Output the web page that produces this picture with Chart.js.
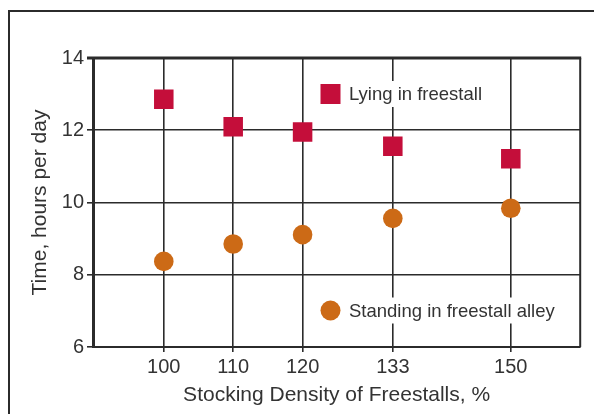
<!DOCTYPE html>
<html><head><meta charset="utf-8">
<script src="https://cdn.jsdelivr.net/npm/chart.js@4/dist/chart.umd.min.js"></script>
<style>html,body{margin:0;padding:0;background:#fff}#wrap{width:594px;height:414px;position:relative}</style>
</head><body><div id="wrap"><canvas id="c" width="594" height="414"></canvas></div>
<script>
const stockingDensity = [100, 110, 120, 133, 150];
const lyingInFreestall = [12.86, 12.1, 11.95, 11.56, 11.21];
const standingInAlley = [8.37, 8.85, 9.11, 9.56, 9.84];
const yTicks = [6, 8, 10, 12, 14];
const seriesLabels = ['Lying in freestall', 'Standing in freestall alley'];
const xTitle = 'Stocking Density of Freestalls, %';
const yTitle = 'Time, hours per day';

const FAMILY = '"Liberation Sans", Arial, Helvetica, sans-serif';
const INK = '#2b2b2b';
const TXT = '#333333';
const RED = '#C40E3A';
const ORANGE = '#CC6A16';
Chart.defaults.font.family = FAMILY;

const framePlugin = {
  id: 'frame',
  beforeDraw(chart) {
    const ctx = chart.ctx;
    ctx.save();
    ctx.strokeStyle = INK;
    ctx.lineWidth = 2;
    ctx.strokeRect(9, 11, 800, 800);
    ctx.restore();
  },
  afterDraw(chart) {
    const ctx = chart.ctx;
    const a = chart.chartArea;
    ctx.save();
    ctx.strokeStyle = INK;
    ctx.lineWidth = 2;
    ctx.beginPath();
    ctx.moveTo(a.right, a.top);
    ctx.lineTo(a.right, a.bottom);
    ctx.stroke();
    ctx.lineWidth = 3;
    ctx.beginPath();
    ctx.moveTo(a.left - 6, a.top);
    ctx.lineTo(a.right + 1, a.top);
    ctx.stroke();
    // in-plot legend
    const items = chart.options.plugins.inlineLegend.items;
    chart.data.datasets.forEach((ds, i) => {
      const it = items[i];
      ctx.font = '18.5px ' + FAMILY;
      const w = ctx.measureText(ds.label).width;
      ctx.fillStyle = '#ffffff';
      ctx.fillRect(it.x - 18, it.y - 13, w + 46, 26);
      ctx.fillStyle = ds.backgroundColor;
      if (ds.pointStyle === 'rect') {
        ctx.fillRect(it.x - 10, it.y - 10, 20, 20);
      } else {
        ctx.beginPath();
        ctx.arc(it.x, it.y, 10, 0, Math.PI * 2);
        ctx.fill();
      }
      ctx.fillStyle = TXT;
      ctx.textBaseline = 'middle';
      ctx.textAlign = 'left';
      ctx.fillText(ds.label, it.x + 18.5, it.y + 1);
    });
    ctx.restore();
  }
};

new Chart(document.getElementById('c'), {
  type: 'scatter',
  data: {
    datasets: [
      {
        label: seriesLabels[0],
        data: stockingDensity.map((x, i) => ({x: x, y: lyingInFreestall[i]})),
        backgroundColor: RED, borderColor: RED,
        pointStyle: 'rect', pointRadius: 13.8, pointBorderWidth: 0, pointHoverRadius: 13.8
      },
      {
        label: seriesLabels[1],
        data: stockingDensity.map((x, i) => ({x: x, y: standingInAlley[i]})),
        backgroundColor: ORANGE, borderColor: ORANGE,
        pointStyle: 'circle', pointRadius: 9.8, pointBorderWidth: 0, pointHoverRadius: 9.8
      }
    ]
  },
  plugins: [framePlugin],
  options: {
    responsive: false,
    animation: false,
    events: [],
    layout: {padding: {left: 0, top: 58, right: 11.5, bottom: 0}},
    plugins: {
      legend: {display: false},
      tooltip: {enabled: false},
      inlineLegend: {items: [{x: 330.5, y: 94}, {x: 330.5, y: 310.5}]}
    },
    scales: {
      x: {
        type: 'linear', min: 89.8, max: 160,
        afterBuildTicks: s => { s.ticks = stockingDensity.map(v => ({value: v})); },
        afterFit: s => { s.height = 67; },
        grid: {color: INK, lineWidth: 1.6, tickLength: 5, drawTicks: true},
        border: {color: INK, width: 2},
        ticks: {font: {size: 20}, color: TXT, padding: 3, maxRotation: 0, autoSkip: false,
                callback: v => String(v)},
        title: {display: true, text: xTitle, font: {size: 21}, color: TXT, padding: {top: 0, bottom: 6.5}}
      },
      y: {
        min: 6, max: 14,
        afterBuildTicks: s => { s.ticks = yTicks.map(v => ({value: v})); },
        afterFit: s => { s.width = 93; },
        grid: {color: INK, lineWidth: 1.6, tickLength: 6, drawTicks: true},
        border: {color: INK, width: 3},
        ticks: {font: {size: 20}, color: TXT, padding: 3, callback: v => String(v)},
        title: {display: true, text: yTitle, font: {size: 21}, color: TXT, padding: {top: 27.5, bottom: 0}}
      }
    }
  }
});
</script>
</body></html>
